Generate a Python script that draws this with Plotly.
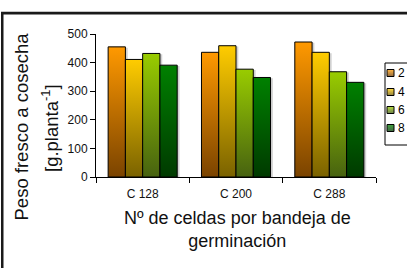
import plotly.graph_objects as go

# ---- data ----
categories = ["C 128", "C 200", "C 288"]
series_names = ["2", "4", "6", "8"]
values_2 = [455, 436, 472]
values_4 = [411, 459, 436]
values_6 = [432, 377, 368]
values_8 = [391, 348, 331]
y_ticks = [0, 100, 200, 300, 400, 500]
x_title = "Nº de celdas por bandeja de<br>germinación"
y_title_lines = ["Peso fresco a cosecha", "[g.planta<sup>-1</sup>]"]

series_values = [values_2, values_4, values_6, values_8]
top_colors = ["#FF9900", "#FFCC00", "#99CC00", "#008000"]
bottom_colors = ["#7A4300", "#7A6200", "#476210", "#003A00"]

W, H = 407, 268
ML, MR, MT, MB = 96, 31, 34, 91
PW, PH = W - ML - MR, H - MT - MB
FONT = "Liberation Sans, Arial, sans-serif"


def px(x):  # pixel -> paper x
    return (x - ML) / PW


def py(y):  # pixel -> paper y
    return (H - MB - y) / PH


def hex2rgb(h):
    h = h.lstrip("#")
    return [int(h[k:k + 2], 16) for k in (0, 2, 4)]


def mix(c1, c2, t):
    a, b = hex2rgb(c1), hex2rgb(c2)
    return "rgb(%d,%d,%d)" % tuple(round(a[k] + (b[k] - a[k]) * t) for k in range(3))


fig = go.Figure()

group_width = 0.74
n = len(series_values)
bw = group_width / n

for i, vals in enumerate(series_values):
    off = -group_width / 2 + bw * (i + 0.5)
    for j, v in enumerate(vals):
        x0 = j + off - bw / 2
        x1 = j + off + bw / 2
        # soft shadow
        fig.add_trace(go.Scatter(
            x=[x0 + 0.03, x0 + 0.03, x1 + 0.025, x1 + 0.025, x0 + 0.03],
            y=[0, v - 3, v - 3, 0, 0], mode="lines", fill="toself",
            fillcolor="rgba(0,0,0,0.18)", line=dict(width=0),
            showlegend=False, hoverinfo="skip"))
    for j, v in enumerate(vals):
        x0 = j + off - bw / 2
        x1 = j + off + bw / 2
        fig.add_trace(go.Scatter(
            x=[x0, x0, x1, x1, x0], y=[0, v, v, 0, 0],
            mode="lines", fill="toself",
            fillgradient=dict(type="vertical",
                              colorscale=[[0, bottom_colors[i]], [1, top_colors[i]]],
                              start=0, stop=v),
            line=dict(color="black", width=1),
            showlegend=False, name=series_names[i]))

shapes = []
annotations = []

# outer chart frame (left and top edges; the rest is off-canvas)
shapes.append(dict(type="line", xref="paper", yref="paper",
                   x0=px(2), x1=px(2), y0=py(H + 20), y1=py(12),
                   line=dict(color="#1a1a1a", width=2)))
shapes.append(dict(type="line", xref="paper", yref="paper",
                   x0=px(1), x1=px(W + 20), y0=py(12.5), y1=py(12.5),
                   line=dict(color="#1a1a1a", width=1.5)))
annotations.append(dict(x=px(1.5), y=py(12.5), xref="paper", yref="paper",
                        xanchor="left", yanchor="top", text=" ", showarrow=False,
                        width=600, height=400, borderpad=0,
                        bordercolor="#1a1a1a", borderwidth=1.5))

# ---- legend (drawn by hand, partly cut by the right edge like the reference) ----
LX0, LY0, LY1 = 385, 63, 145
legend_y = [73, 92, 110, 128]
SQ = 7
for i, name in enumerate(series_names):
    cy = legend_y[i]
    top = cy - SQ / 2
    for b in range(SQ):
        shapes.append(dict(type="rect", xref="paper", yref="paper",
                           x0=px(387), x1=px(387 + SQ), y0=py(top + b + 1), y1=py(top + b),
                           line=dict(width=0),
                           fillcolor=mix(top_colors[i], bottom_colors[i], b / (SQ - 1))))
    shapes.append(dict(type="rect", xref="paper", yref="paper",
                       x0=px(387), x1=px(387 + SQ), y0=py(top + SQ), y1=py(top),
                       line=dict(color="black", width=1), fillcolor="rgba(0,0,0,0)"))
    annotations.append(dict(x=px(396), y=py(cy), xref="paper", yref="paper", text=name,
                            showarrow=False, xanchor="left", yanchor="middle",
                            font=dict(size=12, color="black", family=FONT)))

shapes.append(dict(type="rect", xref="paper", yref="paper",
                   x0=px(LX0), x1=px(W + 30), y0=py(LY1), y1=py(LY0),
                   line=dict(color="black", width=1), fillcolor="rgba(0,0,0,0)"))

# axis titles
annotations.append(dict(x=px(237), y=py(229), xref="paper", yref="paper",
                        text=x_title, showarrow=False, xanchor="center", yanchor="middle",
                        font=dict(size=18, color="#111", family=FONT)))
annotations.append(dict(x=px(20.5), y=py(127), xref="paper", yref="paper",
                        text=y_title_lines[0], showarrow=False, textangle=-90,
                        xanchor="center", yanchor="middle",
                        font=dict(size=18.5, color="#111", family=FONT)))
annotations.append(dict(x=px(50), y=py(128), xref="paper", yref="paper",
                        text=y_title_lines[1], showarrow=False, textangle=-90,
                        xanchor="center", yanchor="middle",
                        font=dict(size=18.5, color="#111", family=FONT)))

fig.update_layout(
    width=W, height=H,
    margin=dict(l=ML, r=MR, t=MT, b=MB, autoexpand=False),
    paper_bgcolor="white", plot_bgcolor="white",
    showlegend=False,
    font=dict(family=FONT, color="black"),
    xaxis=dict(range=[-0.5, 2.5],
               tickmode="array", tickvals=[0, 1, 2], ticktext=categories,
               ticks="", ticklabelstandoff=6, showgrid=False, zeroline=False,
               showline=True, linecolor="black", linewidth=1,
               tickfont=dict(size=12, color="#111"),
               minor=dict(tickmode="array", tickvals=[-0.5, 0.5, 1.5, 2.5],
                          ticks="outside", ticklen=5, tickcolor="black", showgrid=False)),
    yaxis=dict(range=[0, 500],
               tickmode="array", tickvals=y_ticks,
               ticks="outside", ticklen=5, tickcolor="black",
               showgrid=False, zeroline=False,
               showline=True, linecolor="black", linewidth=1,
               tickfont=dict(size=12, color="#111")),
    annotations=annotations,
    shapes=shapes,
)

fig.write_html(
    "out.html", config={"displayModeBar": False},
    post_script=("document.body.style.margin='0px';"
                 "var gd=document.getElementById('{plot_id}');"
                 "if (window.Plotly && gd) { Plotly.relayout(gd, {}); }"))
